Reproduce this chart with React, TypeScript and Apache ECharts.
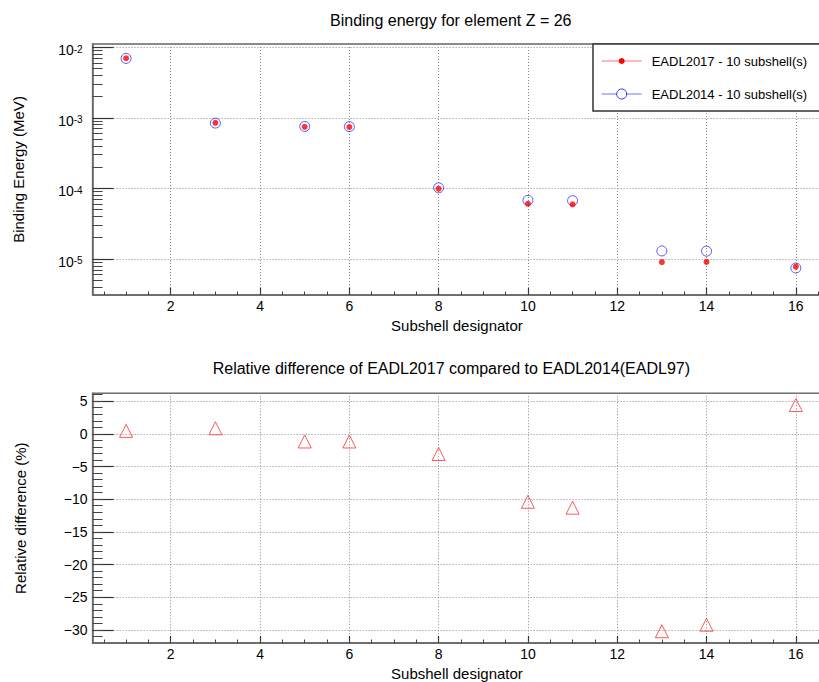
import React, { useEffect, useRef } from "react";
import * as echarts from "echarts";

// ---- data ----
const subshells = [1, 3, 5, 6, 8, 10, 11, 13, 14, 16];
const eadl2017 = [6.97e-3, 8.49e-4, 7.45e-4, 7.41e-4, 9.9e-5, 6.06e-5, 5.94e-5, 9.05e-6, 9.1e-6, 7.78e-6];
const eadl2014 = [6.94e-3, 8.42e-4, 7.54e-4, 7.5e-4, 1.02e-4, 6.76e-5, 6.7e-5, 1.3e-5, 1.29e-5, 7.45e-6];
const relDiff = [0.45, 0.85, -1.17, -1.17, -3.09, -10.4, -11.3, -30.2, -29.2, 4.4];

// ---- tick lists ----
const xMinorTicks = [0.5, 1, 1.5, 2, 2.5, 3, 3.5, 4, 4.5, 5, 5.5, 6, 6.5, 7, 7.5, 8, 8.5, 9, 9.5, 10, 10.5, 11, 11.5, 12, 12.5, 13, 13.5, 14, 14.5, 15, 15.5, 16, 16.5];
const logMinorMantissas = [2, 3, 4, 5, 6, 7, 8, 9];
const logMinorDecades = [1e-6, 1e-5, 1e-4, 1e-3];
const relMinorTicks = [-31, -30, -29, -28, -27, -26, -25, -24, -23, -22, -21, -20, -19, -18, -17, -16, -15, -14, -13, -12, -11, -10, -9, -8, -7, -6, -5, -4, -3, -2, -1, 0, 1, 2, 3, 4, 5, 6];

const TITLE_TOP = "Binding energy for element Z = 26";
const TITLE_BOTTOM = "Relative difference of EADL2017 compared to EADL2014(EADL97)";
const LEGEND_2017 = "EADL2017 - 10 subshell(s)";
const LEGEND_2014 = "EADL2014 - 10 subshell(s)";

const FONT = "'Liberation Sans', Arial, Helvetica, sans-serif";
const FRAME = "#666";
const GRIDLINE = "#888";
const TICK_MAJOR = "#333";
const TICK_MINOR = "#444";

export default function App() {
  const ref = useRef<HTMLDivElement>(null);

  useEffect(() => {
    if (!ref.current) return;
    const chart = echarts.init(ref.current, undefined, { renderer: "svg" });

    const logMinorTicks: number[] = [];
    logMinorDecades.forEach((d) => logMinorMantissas.forEach((m) => logMinorTicks.push(m * d)));

    const xMin = 0.25;
    const xMax = 16.75;
    const yLogMin = 3.09e-6;
    const yLogMax = 0.0111;
    const yRelMin = -32;
    const yRelMax = 6.2;

    const gridBox = { left: 92.6, width: 736.7, height: 251 };

    const majorX = (gridIndex: number) => ({
      type: "value",
      gridIndex,
      position: "bottom",
      min: xMin,
      max: xMax,
      minInterval: 2,
      maxInterval: 2,
      axisLine: { show: true, onZero: false, lineStyle: { color: FRAME, width: 1.5 } },
      axisTick: { show: true, inside: true, length: 7, lineStyle: { color: TICK_MAJOR, width: 1.2 } },
      axisLabel: {
        show: true,
        margin: 4,
        showMinLabel: false,
        showMaxLabel: false,
        color: "#000",
        fontSize: 14,
        fontFamily: FONT,
      },
      splitLine: { show: true, lineStyle: { color: GRIDLINE, type: [1, 2], width: 1 } },
      name: "Subshell designator",
      nameLocation: "middle",
      nameGap: 23,
      nameTextStyle: { color: "#000", fontSize: 15, fontFamily: FONT, padding: [0, 8, 0, 0] },
    });

    const minorX = (gridIndex: number) => ({
      type: "value",
      gridIndex,
      position: "bottom",
      min: xMin,
      max: xMax,
      axisLine: { show: false, onZero: false },
      axisTick: { show: true, inside: true, length: 3.5, customValues: xMinorTicks, lineStyle: { color: TICK_MINOR, width: 1 } },
      axisLabel: { show: false },
      splitLine: { show: false },
    });

    const option: any = {
      animation: false,
      backgroundColor: "#fff",
      title: [
        {
          text: TITLE_TOP,
          left: 330,
          top: 12,
          padding: 0,
          textStyle: { color: "#000", fontSize: 16, fontWeight: "normal", fontFamily: FONT },
        },
        {
          text: TITLE_BOTTOM,
          left: 212.7,
          top: 360,
          padding: 0,
          textStyle: { color: "#000", fontSize: 16, fontWeight: "normal", fontFamily: FONT },
        },
      ],
      grid: [
        { ...gridBox, top: 44, show: true, borderColor: FRAME, borderWidth: 1.5, backgroundColor: "transparent", containLabel: false },
        { ...gridBox, top: 393.3, show: true, borderColor: FRAME, borderWidth: 1.5, backgroundColor: "transparent", containLabel: false },
      ],
      xAxis: [majorX(0), minorX(0), majorX(1), minorX(1)],
      yAxis: [
        {
          type: "log",
          gridIndex: 0,
          position: "left",
          min: yLogMin,
          max: yLogMax,
          logBase: 10,
          axisLine: { show: true, onZero: false, lineStyle: { color: FRAME, width: 1.5 } },
          axisTick: { show: true, inside: true, length: 21, lineStyle: { color: TICK_MAJOR, width: 1.2 } },
          axisLabel: {
            show: true,
            margin: 10,
            showMinLabel: false,
            showMaxLabel: false,
            formatter: (v: number) => `{b|10}{s|${Math.round(Math.log10(v))}}`,
            rich: {
              b: { fontSize: 14, color: "#000", fontFamily: FONT, lineHeight: 14, padding: [6, 0, 0, 0] },
              s: { fontSize: 10, color: "#000", fontFamily: FONT, lineHeight: 10, verticalAlign: "top", padding: [3.8, 0, 0, 0] },
            },
          },
          splitLine: { show: true, lineStyle: { color: GRIDLINE, type: [1, 2], width: 1 } },
          name: "Binding Energy (MeV)",
          nameLocation: "middle",
          nameRotate: 90,
          nameGap: 67,
          nameTextStyle: { color: "#000", fontSize: 15, fontFamily: FONT },
        },
        {
          type: "log",
          gridIndex: 0,
          position: "left",
          min: yLogMin,
          max: yLogMax,
          logBase: 10,
          axisLine: { show: false, onZero: false },
          axisTick: { show: true, inside: true, length: 10, customValues: logMinorTicks, lineStyle: { color: TICK_MINOR, width: 1 } },
          axisLabel: { show: false },
          splitLine: { show: false },
        },
        {
          type: "value",
          gridIndex: 1,
          position: "left",
          min: yRelMin,
          max: yRelMax,
          minInterval: 5,
          maxInterval: 5,
          axisLine: { show: true, onZero: false, lineStyle: { color: FRAME, width: 1.5 } },
          axisTick: { show: true, inside: true, length: 21, lineStyle: { color: TICK_MAJOR, width: 1.2 } },
          axisLabel: {
            show: true,
            margin: 5,
            showMinLabel: false,
            showMaxLabel: false,
            color: "#000",
            fontSize: 14,
            fontFamily: FONT,
            formatter: (v: number) => (v < 0 ? "\u2212" + Math.abs(v) : String(v)),
          },
          splitLine: { show: true, lineStyle: { color: GRIDLINE, type: [1, 2], width: 1 } },
          name: "Relative difference (%)",
          nameLocation: "middle",
          nameRotate: 90,
          nameGap: 65,
          nameTextStyle: { color: "#000", fontSize: 15, fontFamily: FONT },
        },
        {
          type: "value",
          gridIndex: 1,
          position: "left",
          min: yRelMin,
          max: yRelMax,
          axisLine: { show: false, onZero: false },
          axisTick: { show: true, inside: true, length: 10, customValues: relMinorTicks, lineStyle: { color: TICK_MINOR, width: 1 } },
          axisLabel: { show: false },
          splitLine: { show: false },
        },
      ],
      series: [
        {
          name: "EADL2014",
          type: "scatter",
          xAxisIndex: 0,
          yAxisIndex: 0,
          symbol: "circle",
          symbolSize: 10,
          z: 3,
          itemStyle: { color: "rgba(0,0,0,0)", borderColor: "#3030ff", borderWidth: 1 },
          data: subshells.map((x, i) => [x, eadl2014[i]]),
        },
        {
          name: "EADL2017",
          type: "scatter",
          xAxisIndex: 0,
          yAxisIndex: 0,
          symbol: "circle",
          symbolSize: 6,
          z: 4,
          itemStyle: { color: "#ff0000" },
          data: subshells.map((x, i) => [x, eadl2017[i]]),
        },
        {
          name: "Relative difference",
          type: "scatter",
          xAxisIndex: 2,
          yAxisIndex: 2,
          symbol: "triangle",
          symbolSize: 13,
          z: 3,
          itemStyle: { color: "rgba(0,0,0,0)", borderColor: "#ff3030", borderWidth: 1 },
          data: subshells.map((x, i) => [x, relDiff[i]]),
        },
      ],
      graphic: [
        {
          type: "rect",
          z: 100,
          shape: { x: 593, y: 44, width: 260, height: 67 },
          style: { fill: "#fff", stroke: "#333", lineWidth: 1.5 },
        },
        {
          type: "line",
          z: 101,
          shape: { x1: 601.7, y1: 61, x2: 641.7, y2: 61 },
          style: { stroke: "#ff7070", lineWidth: 1 },
        },
        {
          type: "circle",
          z: 102,
          shape: { cx: 621.7, cy: 61, r: 3 },
          style: { fill: "#ff0000" },
        },
        {
          type: "text",
          z: 101,
          x: 651.7,
          y: 61,
          style: { text: LEGEND_2017, fill: "#000", fontSize: 13, fontFamily: FONT, verticalAlign: "middle", align: "left" },
        },
        {
          type: "line",
          z: 101,
          shape: { x1: 601.7, y1: 94, x2: 641.7, y2: 94 },
          style: { stroke: "#7070ff", lineWidth: 1 },
        },
        {
          type: "circle",
          z: 102,
          shape: { cx: 621.7, cy: 94, r: 5 },
          style: { fill: "#fff", stroke: "#3030ff", lineWidth: 1 },
        },
        {
          type: "text",
          z: 101,
          x: 651.7,
          y: 94,
          style: { text: LEGEND_2014, fill: "#000", fontSize: 13, fontFamily: FONT, verticalAlign: "middle", align: "left" },
        },
      ],
    };

    chart.setOption(option);
    return () => chart.dispose();
  }, []);

  return (
    <div style={{ position: "fixed", left: 0, top: 0, width: 819, height: 682, overflow: "hidden", background: "#fff" }}>
      <div ref={ref} style={{ width: 850, height: 682 }} />
    </div>
  );
}
